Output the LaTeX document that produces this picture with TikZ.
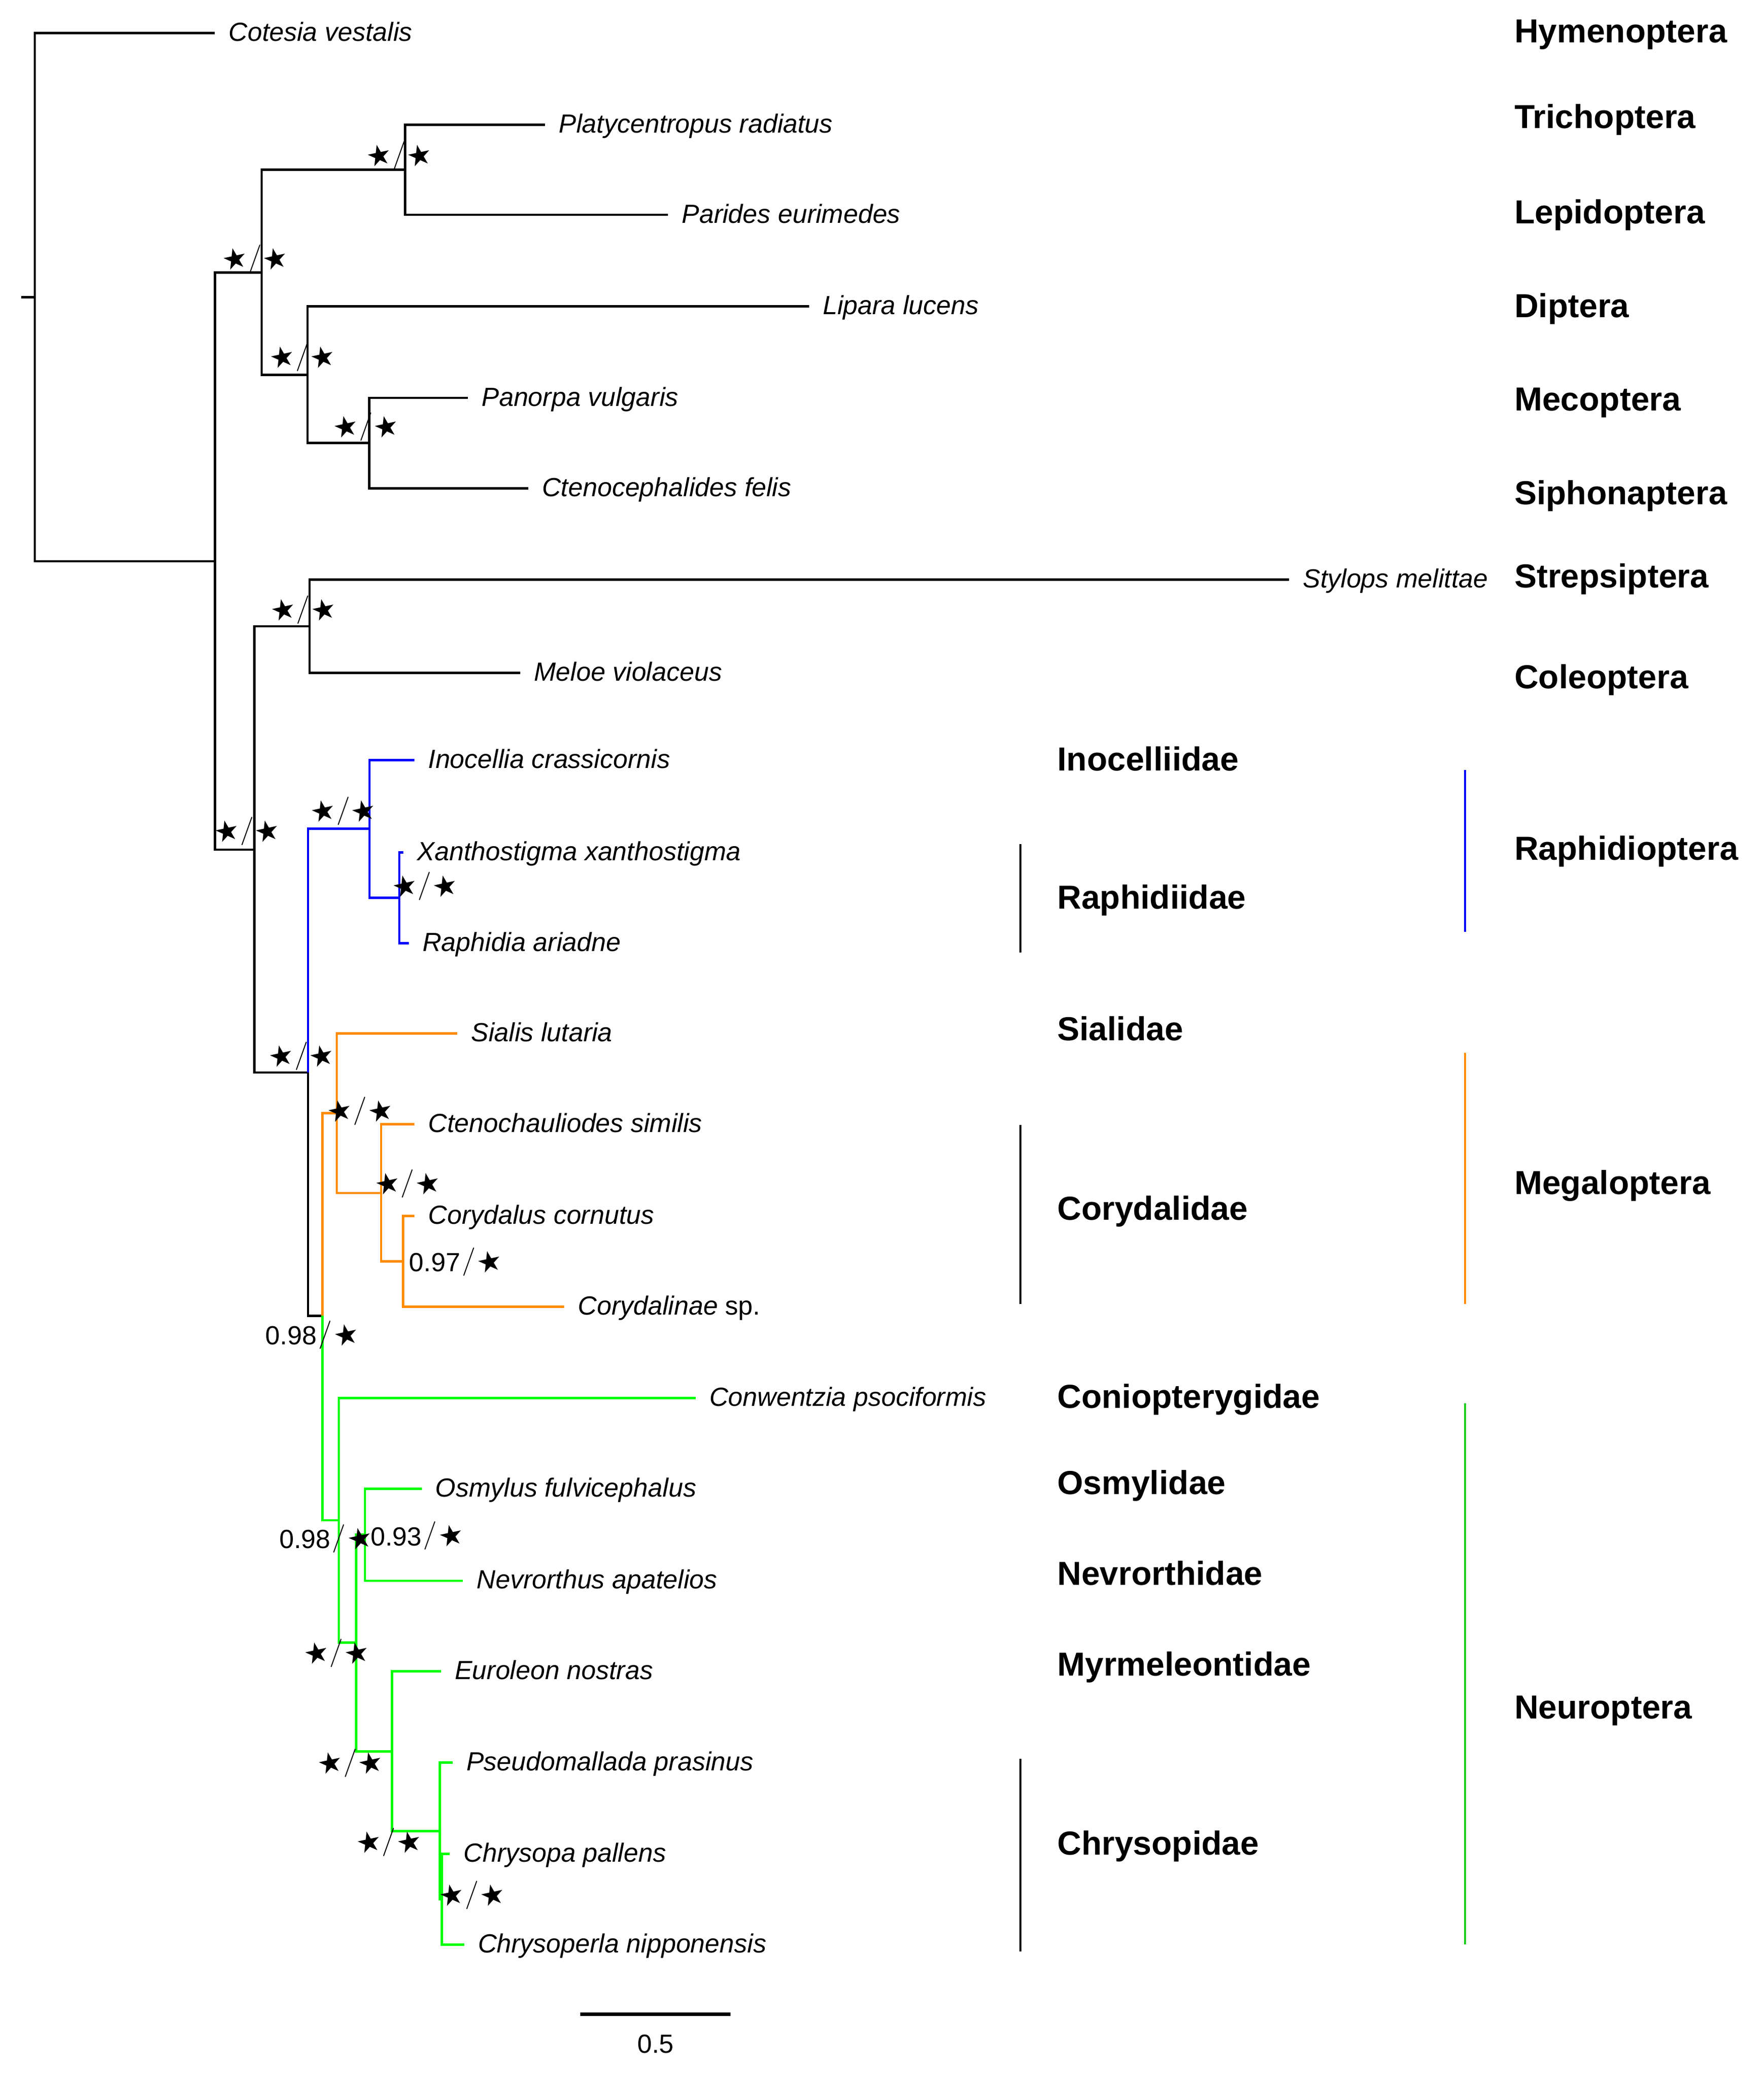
\documentclass[tikz,border=0pt]{standalone}
\usepackage{fontspec}
\usepackage{graphicx}
\setmainfont{Liberation Sans}
\newfontfamily\djv{DejaVu Sans}
\definecolor{tblue}{RGB}{0,0,255}
\definecolor{torange}{RGB}{255,140,0}
\definecolor{tgreen}{RGB}{0,255,0}
\definecolor{bgreen}{RGB}{30,205,30}
\newcommand\onestar{\rotatebox[origin=c]{12}{\djv\fontsize{14}{14}\selectfont ★}}
\newcommand\slsh{\raisebox{1.3pt}{\fontfamily{lmr}\fontsize{14}{14}\selectfont /}}
\newcommand\twostars{\onestar\hspace{-0.6pt}\slsh\hspace{-0.6pt}\onestar}
\newcommand\numstar[1]{#1\hspace{0.8pt}\slsh\hspace{-0.3pt}\onestar}
\tikzset{
  br/.style={line width=1.15pt},
  tiplab/.style={anchor=base west, inner sep=0pt, font=\fontsize{13}{15}\selectfont\itshape},
  grplab/.style={anchor=base west, inner sep=0pt, font=\fontsize{16.5}{18}\selectfont\bfseries},
  supp/.style={anchor=base, inner sep=0pt, font=\fontsize{13}{15}\selectfont},
  suppn/.style={anchor=base west, inner sep=0pt, font=\fontsize{13}{15}\selectfont},
  cbar/.style={line width=0.95pt},
  sbar/.style={line width=1.6pt}
}
\begin{document}
\begin{tikzpicture}[x=0.66pt,y=-0.66pt]
\useasboundingbox (0,0) rectangle (1325,1561.7);
% internal nodes
\coordinate (Rt) at (15.9,223.2);
\coordinate (R) at (26.1,223.2);
\coordinate (A) at (161.5,421.5);
\coordinate (B) at (196.6,204.75);
\coordinate (C) at (191.2,638.2);
\coordinate (B1) at (304.4,127.55);
\coordinate (B2) at (231,281.6);
\coordinate (B3) at (277.4,332.85);
\coordinate (D) at (232.5,470.4);
\coordinate (E) at (231.5,805.6);
\coordinate (RA) at (277.6,622.6);
\coordinate (RB) at (300,674.3);
\coordinate (MN) at (242.2,988.4);
\coordinate (MG) at (253,836.2);
\coordinate (CO) at (286.3,896.2);
\coordinate (CO2) at (302.8,947.6);
\coordinate (NE) at (254.6,1142);
\coordinate (NE2) at (267.6,1233.75);
\coordinate (OS) at (274.3,1152.85);
\coordinate (MC) at (294.6,1315.7);
\coordinate (CH) at (330.5,1375.5);
\coordinate (CH2) at (332,1426.6);
% tips
\coordinate (tCot) at (161.5,24.9);
\coordinate (tPla) at (409.6,93.7);
\coordinate (tPar) at (502,161.4);
\coordinate (tLip) at (608,230.2);
\coordinate (tPan) at (351.6,298.9);
\coordinate (tCtf) at (397,366.8);
\coordinate (tSty) at (968.6,435.3);
\coordinate (tMel) at (391,505.5);
\coordinate (tIno) at (311.5,571.1);
\coordinate (tXan) at (303.2,640.2);
\coordinate (tRap) at (307.2,708.4);
\coordinate (tSia) at (343.7,776.2);
\coordinate (tCts) at (311.5,844.4);
\coordinate (tCor) at (311.5,913.5);
\coordinate (tCsp) at (424,981.7);
\coordinate (tCon) at (522.7,1050.1);
\coordinate (tOsm) at (316.9,1118.3);
\coordinate (tNev) at (347.9,1187.4);
\coordinate (tEur) at (331.4,1255.5);
\coordinate (tPse) at (340.1,1324);
\coordinate (tChp) at (338,1392.5);
\coordinate (tChn) at (348.8,1460.7);
% black branches
\draw[br] (Rt) -- (R);
\draw[br] (R) |- (tCot);
\draw[br] (R) |- (A);
\draw[br] (A) |- (B);
\draw[br] (A) |- (C);
\draw[br] (B) |- (B1);
\draw[br] (B) |- (B2);
\draw[br] (B1) |- (tPla);
\draw[br] (B1) |- (tPar);
\draw[br] (B2) |- (tLip);
\draw[br] (B2) |- (B3);
\draw[br] (B3) |- (tPan);
\draw[br] (B3) |- (tCtf);
\draw[br] (C) |- (D);
\draw[br] (C) |- (E);
\draw[br] (D) |- (tSty);
\draw[br] (D) |- (tMel);
\draw[br] (E) |- (MN);
% blue
\draw[br,tblue] (E) |- (RA);
\draw[br,tblue] (RA) |- (tIno);
\draw[br,tblue] (RA) |- (RB);
\draw[br,tblue] (RB) |- (tXan);
\draw[br,tblue] (RB) |- (tRap);
% orange
\draw[br,torange] (MN) |- (MG);
\draw[br,torange] (MG) |- (tSia);
\draw[br,torange] (MG) |- (CO);
\draw[br,torange] (CO) |- (tCts);
\draw[br,torange] (CO) |- (CO2);
\draw[br,torange] (CO2) |- (tCor);
\draw[br,torange] (CO2) |- (tCsp);
% green
\draw[br,tgreen] (MN) |- (NE);
\draw[br,tgreen] (NE) |- (tCon);
\draw[br,tgreen] (NE) |- (NE2);
\draw[br,tgreen] (NE2) |- (OS);
\draw[br,tgreen] (OS) |- (tOsm);
\draw[br,tgreen] (OS) |- (tNev);
\draw[br,tgreen] (NE2) |- (MC);
\draw[br,tgreen] (MC) |- (tEur);
\draw[br,tgreen] (MC) |- (CH);
\draw[br,tgreen] (CH) |- (tPse);
\draw[br,tgreen] (CH) |- (CH2);
\draw[br,tgreen] (CH2) |- (tChp);
\draw[br,tgreen] (CH2) |- (tChn);
% tip labels
\node[tiplab] (lCot) at ([xshift=6.6pt,yshift=-4pt]tCot) {Cotesia vestalis};
\node[tiplab] (lPla) at ([xshift=6.6pt,yshift=-4pt]tPla) {Platycentropus radiatus};
\node[tiplab] (lPar) at ([xshift=6.6pt,yshift=-4pt]tPar) {Parides eurimedes};
\node[tiplab] (lLip) at ([xshift=6.6pt,yshift=-4pt]tLip) {Lipara lucens};
\node[tiplab] (lPan) at ([xshift=6.6pt,yshift=-4pt]tPan) {Panorpa vulgaris};
\node[tiplab] (lCtf) at ([xshift=6.6pt,yshift=-4pt]tCtf) {Ctenocephalides felis};
\node[tiplab] (lSty) at ([xshift=6.6pt,yshift=-4pt]tSty) {Stylops melittae};
\node[tiplab] (lMel) at ([xshift=6.6pt,yshift=-4pt]tMel) {Meloe violaceus};
\node[tiplab] (lIno) at ([xshift=6.6pt,yshift=-4pt]tIno) {Inocellia crassicornis};
\node[tiplab] (lXan) at ([xshift=6.6pt,yshift=-4pt]tXan) {Xanthostigma xanthostigma};
\node[tiplab] (lRap) at ([xshift=6.6pt,yshift=-4pt]tRap) {Raphidia ariadne};
\node[tiplab] (lSia) at ([xshift=6.6pt,yshift=-4pt]tSia) {Sialis lutaria};
\node[tiplab] (lCts) at ([xshift=6.6pt,yshift=-4pt]tCts) {Ctenochauliodes similis};
\node[tiplab] (lCor) at ([xshift=6.6pt,yshift=-4pt]tCor) {Corydalus cornutus};
\node[tiplab] (lCsp) at ([xshift=6.6pt,yshift=-4pt]tCsp) {Corydalinae {\upshape sp.}};
\node[tiplab] (lCon) at ([xshift=6.6pt,yshift=-4pt]tCon) {Conwentzia psociformis};
\node[tiplab] (lOsm) at ([xshift=6.6pt,yshift=-4pt]tOsm) {Osmylus fulvicephalus};
\node[tiplab] (lNev) at ([xshift=6.6pt,yshift=-4pt]tNev) {Nevrorthus apatelios};
\node[tiplab] (lEur) at ([xshift=6.6pt,yshift=-4pt]tEur) {Euroleon nostras};
\node[tiplab] (lPse) at ([xshift=6.6pt,yshift=-4pt]tPse) {Pseudomallada prasinus};
\node[tiplab] (lChp) at ([xshift=6.6pt,yshift=-4pt]tChp) {Chrysopa pallens};
\node[tiplab] (lChn) at ([xshift=6.6pt,yshift=-4pt]tChn) {Chrysoperla nipponensis};
% support values
\node[supp] (s1) at (300,124) {\twostars};
\node[supp] (s2) at (191.6,201.6) {\twostars};
\node[supp] (s3) at (227.2,275.5) {\twostars};
\node[supp] (s4) at (274.9,328) {\twostars};
\node[supp] (s5) at (227.9,465.5) {\twostars};
\node[supp] (s6) at (185.5,631.5) {\twostars};
\node[supp] (s7) at (258,616.6) {\twostars};
\node[supp] (s8) at (319.2,673) {\twostars};
\node[supp] (s9) at (226.5,800.7) {\twostars};
\node[supp] (s10) at (270.6,842) {\twostars};
\node[supp] (s11) at (306.3,896.6) {\twostars};
\node[suppn] (s12) at (307.2,955) {\numstar{0.97}};
\node[suppn] (s13) at (199.3,1010) {\numstar{0.98}};
\node[suppn] (s14) at (209.6,1163) {\numstar{0.98}};
\node[suppn] (s15) at (278.3,1161) {\numstar{0.93}};
\node[supp] (s16) at (252.9,1249) {\twostars};
\node[supp] (s17) at (263.3,1331.5) {\twostars};
\node[supp] (s18) at (292.3,1391) {\twostars};
\node[supp] (s19) at (354.7,1431) {\twostars};
% order labels
\node[grplab] (oHym) at (1137.6,32.1) {Hymenoptera};
\node[grplab] (oTri) at (1137.6,96.4) {Trichoptera};
\node[grplab] (oLep) at (1137.6,168.1) {Lepidoptera};
\node[grplab] (oDip) at (1137.6,238.4) {Diptera};
\node[grplab] (oMec) at (1137.6,308.4) {Mecoptera};
\node[grplab] (oSip) at (1137.6,378.8) {Siphonaptera};
\node[grplab] (oStr) at (1137.6,441.4) {Strepsiptera};
\node[grplab] (oCol) at (1137.6,517.4) {Coleoptera};
\node[grplab] (oRap) at (1137.6,645.9) {Raphidioptera};
\node[grplab] (oMeg) at (1137.6,897.1) {Megaloptera};
\node[grplab] (oNeu) at (1137.6,1291.2) {Neuroptera};
% family labels
\node[grplab] (fIno) at (794.2,579) {Inocelliidae};
\node[grplab] (fRap) at (794.2,682.7) {Raphidiidae};
\node[grplab] (fSia) at (794.2,781.6) {Sialidae};
\node[grplab] (fCor) at (794.2,916.6) {Corydalidae};
\node[grplab] (fCon) at (794.2,1057.9) {Coniopterygidae};
\node[grplab] (fOsm) at (794.2,1122.6) {Osmylidae};
\node[grplab] (fNev) at (794.2,1190.7) {Nevrorthidae};
\node[grplab] (fMyr) at (794.2,1258.8) {Myrmeleontidae};
\node[grplab] (fChr) at (794.2,1393.2) {Chrysopidae};
% clade bars
\coordinate (bRa1) at (766.5,634); \coordinate (bRa2) at (766.5,715.6);
\coordinate (bCo1) at (766.5,845); \coordinate (bCo2) at (766.5,979.4);
\coordinate (bCh1) at (766.5,1321); \coordinate (bCh2) at (766.5,1466);
\coordinate (oR1) at (1100.7,578.4); \coordinate (oR2) at (1100.7,700);
\coordinate (oM1) at (1100.7,791); \coordinate (oM2) at (1100.7,979.4);
\coordinate (oN1) at (1100.7,1054.1); \coordinate (oN2) at (1100.7,1460.7);
\draw[cbar] (bRa1) -- (bRa2);
\draw[cbar] (bCo1) -- (bCo2);
\draw[cbar] (bCh1) -- (bCh2);
\draw[cbar,tblue] (oR1) -- (oR2);
\draw[cbar,torange] (oM1) -- (oM2);
\draw[cbar,bgreen] (oN1) -- (oN2);
% scale bar
\coordinate (sb1) at (436.1,1513);
\coordinate (sb2) at (549,1513);
\draw[sbar] (sb1) -- (sb2);
\node[supp] (sbl) at (492.5,1542) {0.5};
\end{tikzpicture}
\end{document}
